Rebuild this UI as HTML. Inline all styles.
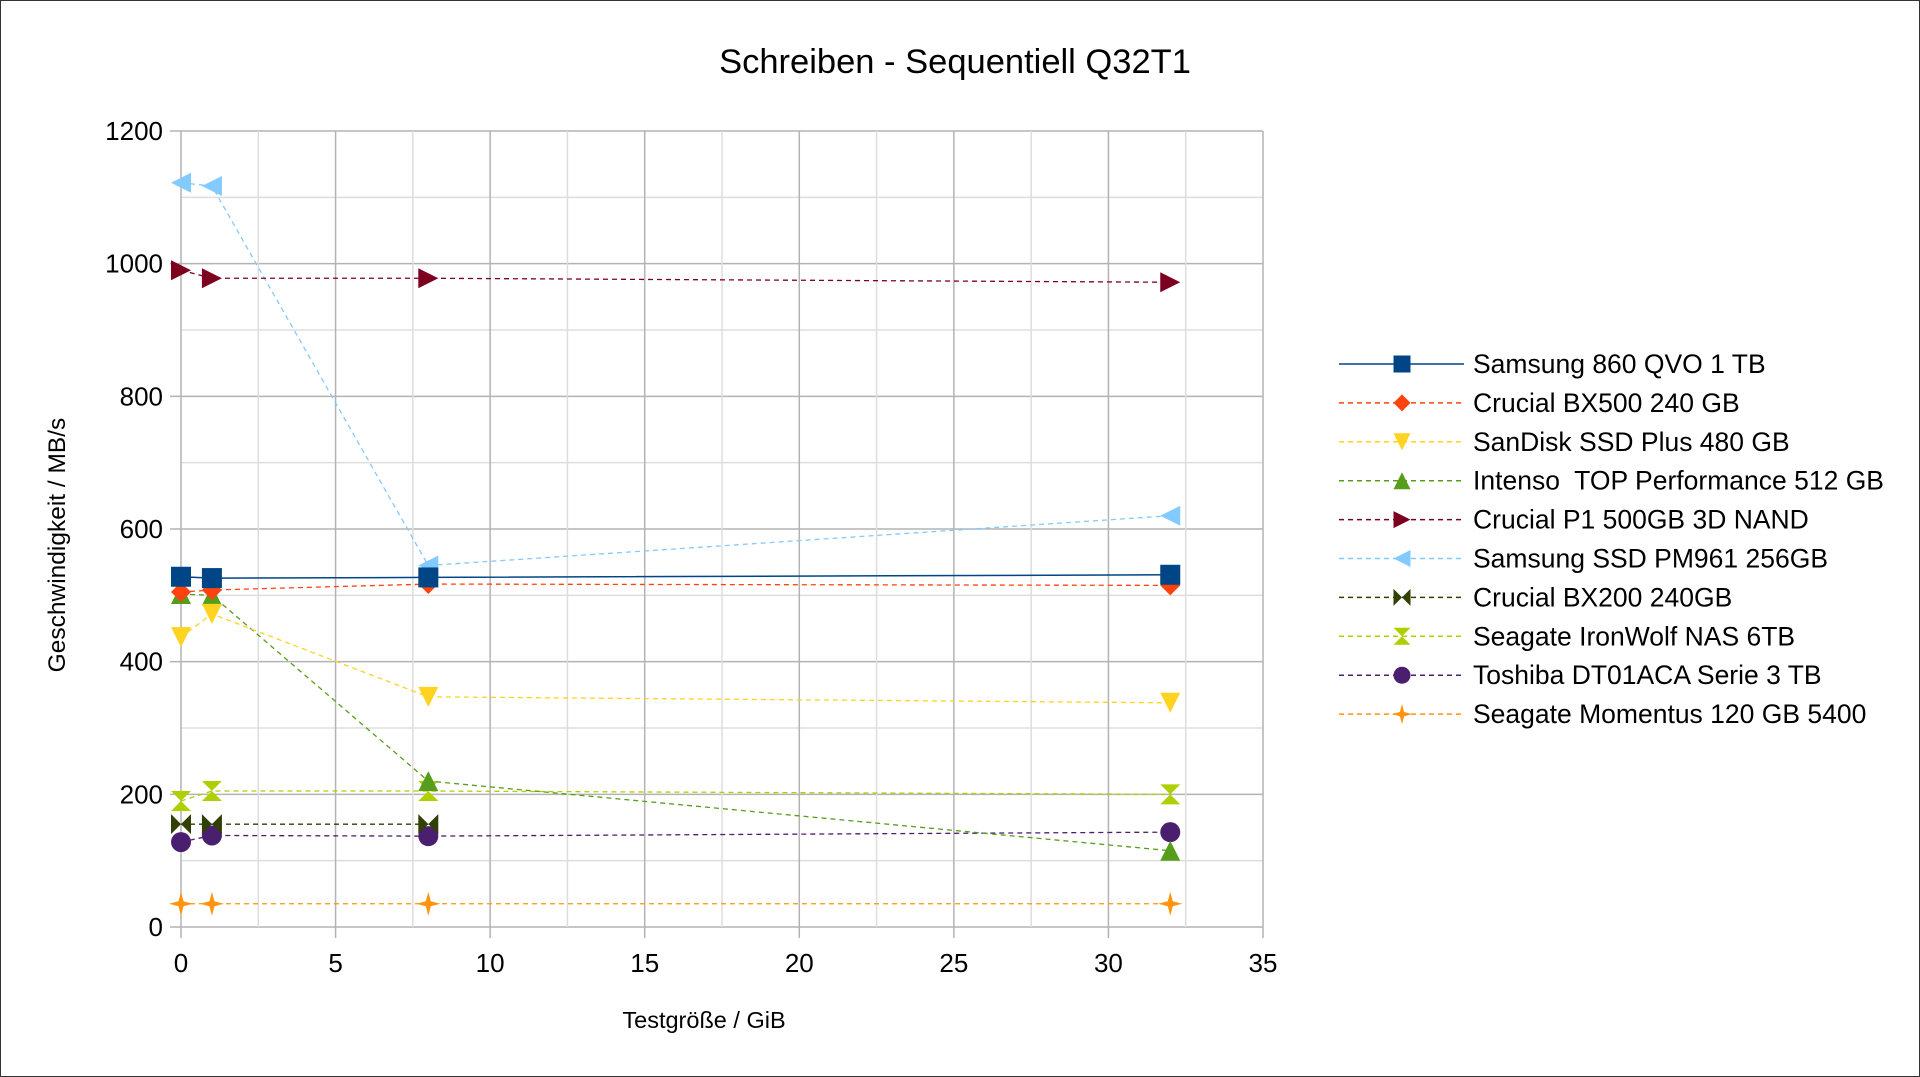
<!DOCTYPE html>
<html><head><meta charset="utf-8"><style>
body{margin:0;background:#fff;}
svg{display:block;font-family:"Liberation Sans",sans-serif;}
</style></head><body>
<svg id="chart" width="1920" height="1077" viewBox="0 0 1920 1077">
<rect x="0.5" y="0.5" width="1919" height="1076" fill="#fff" stroke="#333"/>
<text x="955" y="73" font-size="34.5" text-anchor="middle">Schreiben - Sequentiell Q32T1</text>
<g id="grid"></g><g id="axes"></g><g id="series"></g><g id="legend"></g>
<text transform="translate(65,545) rotate(-90)" font-size="24.5" text-anchor="middle">Geschwindigkeit / MB/s</text>
<text x="704" y="1028" font-size="23.5" text-anchor="middle">Testgröße / GiB</text>
</svg>
<script>
const xs = [0, 1, 8, 32];
const seriesNames = ["Samsung 860 QVO 1 TB","Crucial BX500 240 GB","SanDisk SSD Plus 480 GB","Intenso  TOP Performance 512 GB","Crucial P1 500GB 3D NAND","Samsung SSD PM961 256GB","Crucial BX200 240GB","Seagate IronWolf NAS 6TB","Toshiba DT01ACA Serie 3 TB","Seagate Momentus 120 GB 5400"];
const samsungQvo = [528, 526, 527, 531];
const crucialBx500 = [505, 508, 517, 515];
const sandisk = [437, 472, 347, 338];
const intenso = [502, 500, 220, 115];
const crucialP1 = [990, 978, 978, 972];
const pm961 = [1122, 1117, 545, 620];
const crucialBx200 = [155, 155, 155, null];
const ironwolf = [190, 205, 205, 200];
const toshiba = [128, 138, 137, 143];
const momentus = [35, 35, 35, 35];
const yTicks = [0, 200, 400, 600, 800, 1000, 1200];
const xTicks = [0, 5, 10, 15, 20, 25, 30, 35];

const allValues = [samsungQvo, crucialBx500, sandisk, intenso, crucialP1, pm961, crucialBx200, ironwolf, toshiba, momentus];
const colors = ["#004586","#ff420e","#ffd320","#579d1c","#7e0021","#83caff","#314004","#aecf00","#4b1f6f","#ff950e"];
const shapes = ["square","diamond","down","up","right","left","bowtie","hourglass","circle","star"];
const X0 = 181, X1 = 1263, Y0 = 927, Y1 = 131;
const sx = v => X0 + (v / 35) * (X1 - X0);
const sy = v => Y0 - (v / 1200) * (Y0 - Y1);
const NS = "http://www.w3.org/2000/svg";
function mk(tag, attrs, parent) { const e = document.createElementNS(NS, tag); for (const k in attrs) e.setAttribute(k, attrs[k]); parent.appendChild(e); return e; }
const grid = document.getElementById('grid'), axes = document.getElementById('axes'), ser = document.getElementById('series'), leg = document.getElementById('legend');
for (let v = 0; v <= 1200; v += 100) {
  const l = mk('line', {x1: X0, x2: X1, y1: sy(v), y2: sy(v), stroke: v % 200 ? '#dddddd' : '#b3b3b3', 'stroke-width': 1.5}, grid);
  
  
}
for (let v = 0; v <= 35; v += 2.5) {
  const l = mk('line', {x1: sx(v), x2: sx(v), y1: Y1, y2: Y0, stroke: v % 5 ? '#dddddd' : '#b3b3b3', 'stroke-width': 1.5}, grid);
  
  
}
yTicks.forEach(v => {
  mk('line', {x1: X0 - 11, x2: X0, y1: sy(v), y2: sy(v), stroke: '#b3b3b3', 'stroke-width': 1.5}, axes);
  const t = mk('text', {x: X0 - 18, y: sy(v) + 9, 'font-size': 26, 'text-anchor': 'end'}, axes);
  t.textContent = v;
  
  
});
xTicks.forEach(v => {
  mk('line', {x1: sx(v), x2: sx(v), y1: Y0, y2: Y0 + 11, stroke: '#b3b3b3', 'stroke-width': 1.5}, axes);
  const t = mk('text', {x: sx(v), y: Y0 + 45, 'font-size': 26, 'text-anchor': 'middle'}, axes);
  t.textContent = v;
  
  
});
function marker(shape, x, y, c, parent, s) {
  let p;
  if (shape === 'square') p = mk('rect', {x: x - s, y: y - s, width: 2 * s, height: 2 * s, fill: c}, parent);
  else if (shape === 'circle') p = mk('circle', {cx: x, cy: y, r: s, fill: c}, parent);
  else {
    const pts = {
      diamond: [[0,-s],[s,0],[0,s],[-s,0]],
      down: [[-s,-s],[s,-s],[0,s]],
      up: [[0,-s],[s,s],[-s,s]],
      right: [[-s,-s],[s,0],[-s,s]],
      left: [[s,-s],[-s,0],[s,s]],
      bowtie: [[-s,-s],[s,s],[s,-s],[-s,s]],
      hourglass: [[-s,-s],[s,-s],[-s,s],[s,s]],
      star: [[0,-s*1.2],[s*0.25,-s*0.25],[s*1.2,0],[s*0.25,s*0.25],[0,s*1.2],[-s*0.25,s*0.25],[-s*1.2,0],[-s*0.25,-s*0.25]]
    }[shape];
    p = mk('polygon', {points: pts.map(q => (x + q[0]) + ',' + (y + q[1])).join(' '), fill: c}, parent);
  }
  return p;
}
for (let i = allValues.length - 1; i >= 0; i--) {
  const vals = allValues[i];
  const g = mk('g', {}, ser);
  
  
  const pts = xs.map((x, j) => vals[j] == null ? null : [sx(x), sy(vals[j])]).filter(p => p);
  const pl = mk('polyline', {points: pts.map(p => p.join(',')).join(' '), fill: 'none', stroke: colors[i], 'stroke-width': i === 0 ? 1.5 : 1.3, 'stroke-dasharray': i === 0 ? 'none' : '5,4'}, g);
  
  
  pts.forEach(p => {
    const m = marker(shapes[i], p[0], p[1], colors[i], g, 10);
    
    
  });
}
allValues.forEach((vals, i) => {
  const ly = 364 + i * 38.9;
  const lg = mk('g', {}, leg);
  
  
  mk('line', {x1: 1339, x2: 1464, y1: ly, y2: ly, stroke: colors[i], 'stroke-width': 1.5, 'stroke-dasharray': i === 0 ? 'none' : '5,4'}, lg);
  marker(shapes[i], 1402, ly, colors[i], lg, 8.5);
  const t = mk('text', {x: 1473, y: ly + 9, 'font-size': 26.5}, lg);
  t.setAttribute('xml:space', 'preserve');
  t.style.whiteSpace = 'pre';
  t.textContent = seriesNames[i];
});
</script>
</body></html>
